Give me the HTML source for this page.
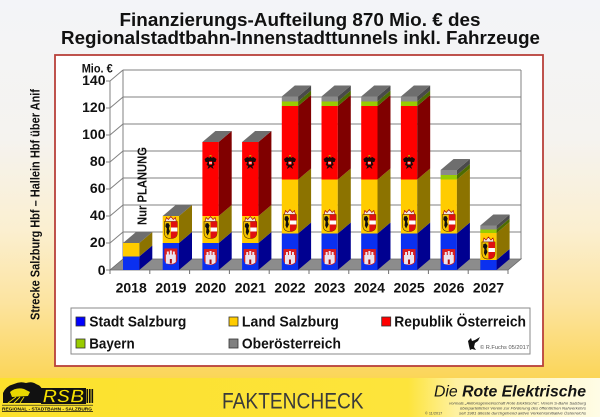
<!DOCTYPE html>
<html><head><meta charset="utf-8"><style>
html,body{margin:0;padding:0;width:600px;height:417px;overflow:hidden;background:#f4f5f8}
svg{display:block}
text{font-family:"Liberation Sans",Arial,sans-serif}
</style></head><body>
<svg width="600" height="417" viewBox="0 0 600 417" xmlns="http://www.w3.org/2000/svg">
<defs>
<linearGradient id="bg" x1="0" y1="0" x2="0" y2="1">
<stop offset="0" stop-color="#f3f4f8"/>
<stop offset="0.37" stop-color="#f5f3ef"/>
<stop offset="0.61" stop-color="#fbefd0"/>
<stop offset="0.8" stop-color="#fce4a0"/>
<stop offset="1" stop-color="#fbd558"/>
</linearGradient>
<linearGradient id="ft" x1="0" y1="0" x2="1" y2="0">
<stop offset="0" stop-color="#fce12c"/>
<stop offset="0.68" stop-color="#fde43c"/>
<stop offset="0.76" stop-color="#fef1a0"/>
<stop offset="1" stop-color="#fffce6"/>
</linearGradient>
<g id="city">
<path d="M0,0 H13 V10 Q13,16 6.5,16 Q0,16 0,10 Z" fill="#d81e1e"/>
<path d="M1.5,15 V6 H2.5 V3 H4.5 V6 H5.5 V2 H7.5 V6 H8.5 V3 H10.5 V6 H11.5 V13.5 Q9,15.5 6.5,15.5 Q4,15.5 1.5,15 Z" fill="#ece4ee"/>
<rect x="5.5" y="10.5" width="2" height="4.5" fill="#b01010"/>
</g>
<g id="land">
<path d="M1,5 L2,1 L4,3 L6.5,0 L9,3 L11,1 L12,5 Z" fill="#f0e8e0" stroke="#a00" stroke-width="0.6"/>
<path d="M0,5 H13 V16 Q13,22 6.5,22 Q0,22 0,16 Z" fill="#f5c400" stroke="#4a3000" stroke-width="0.6"/>
<path d="M6.5,5 H13 V16 Q13,22 6.5,22 Z" fill="#e01010"/>
<rect x="6.5" y="11" width="6.5" height="4" fill="#fff"/>
<path d="M1.5,7 L4,6.5 L5.5,9 L4.5,12 L5.5,15 L3.5,19 L2,16 L2.5,12 L1,10 Z" fill="#111"/>
</g>
<g id="eagle">
<path d="M6,1 L7,3 L9,2 L12,4 L11,7 L9,7 L10,10 L8,11 L9,14 L6,12 L3,14 L4,11 L2,10 L3,7 L1,7 L0,4 L3,2 L5,3 Z" fill="#1a0808"/>
<rect x="4.5" y="6" width="3" height="4" fill="#e00"/>
<rect x="4.5" y="7.3" width="3" height="1.3" fill="#fff"/>
<rect x="5" y="0" width="2" height="1.6" fill="#c9a000"/>
</g>
<g id="barA">
<rect x="0" y="233.5" width="16.3" height="36.5" fill="#0a30f0"/>
<polygon points="16.3,270 16.3,233.5 29.3,222.5 29.3,259" fill="#000090"/>
<rect x="0" y="179.5" width="16.3" height="54" fill="#ffcc00"/>
<polygon points="16.3,233.5 16.3,179.5 29.3,168.5 29.3,222.5" fill="#8c7300"/>
<rect x="0" y="106" width="16.3" height="73.5" fill="#ff0000"/>
<polygon points="16.3,179.5 16.3,106 29.3,95 29.3,168.5" fill="#800000"/>
<rect x="0" y="101.5" width="16.3" height="4.5" fill="#99cc00"/>
<polygon points="16.3,106 16.3,101.5 29.3,90.5 29.3,95" fill="#4d6b00"/>
<rect x="0" y="96.5" width="16.3" height="5" fill="#8a8a8a"/>
<polygon points="16.3,101.5 16.3,96.5 29.3,85.5 29.3,90.5" fill="#4a4a4a"/>
<polygon points="0,96.5 16.3,96.5 29.3,85.5 13,85.5" fill="#6e6e6e"/>
<use href="#city" x="1.65" y="249"/>
<use href="#land" x="1.65" y="209.5"/>
<use href="#eagle" x="2.15" y="155"/>
</g>
<g id="barB">
<rect x="0" y="243" width="16.3" height="27" fill="#0a30f0"/>
<polygon points="16.3,270 16.3,243 29.3,232 29.3,259" fill="#000090"/>
<rect x="0" y="216" width="16.3" height="27" fill="#ffcc00"/>
<polygon points="16.3,243 16.3,216 29.3,205 29.3,232" fill="#8c7300"/>
<rect x="0" y="142" width="16.3" height="74" fill="#ff0000"/>
<polygon points="16.3,216 16.3,142 29.3,131 29.3,205" fill="#800000"/>
<polygon points="0,142 16.3,142 29.3,131 13,131" fill="#6e6e6e"/>
<use href="#city" x="1.65" y="249"/>
<use href="#land" x="1.65" y="216.5"/>
<use href="#eagle" x="2.15" y="155"/>
</g>
</defs>

<!-- background -->
<rect x="0" y="0" width="600" height="378" fill="url(#bg)"/>
<rect x="0" y="378" width="600" height="39" fill="url(#ft)"/>

<!-- title -->
<text x="119.5" y="26" font-size="18.5" font-weight="bold" fill="#111" textLength="361" lengthAdjust="spacingAndGlyphs">Finanzierungs-Aufteilung 870 Mio. € des</text>
<text x="61" y="44" font-size="18.5" font-weight="bold" fill="#111" textLength="479" lengthAdjust="spacingAndGlyphs">Regionalstadtbahn-Innenstadttunnels inkl. Fahrzeuge</text>

<!-- left vertical text -->
<text transform="translate(39.5,320) rotate(-90)" x="0" y="0" font-size="12.5" font-weight="bold" fill="#111" textLength="231" lengthAdjust="spacingAndGlyphs">Strecke Salzburg Hbf – Hallein Hbf über Anif</text>

<!-- chart box -->
<rect x="55" y="55" width="488" height="311" fill="#fff" stroke="#b8403a" stroke-width="1.8"/>

<!-- back wall grid -->
<g stroke="#808080" stroke-width="1" fill="none">
<line x1="123" y1="70" x2="521" y2="70"/>
<line x1="123" y1="97" x2="521" y2="97"/>
<line x1="123" y1="124" x2="521" y2="124"/>
<line x1="123" y1="151" x2="521" y2="151"/>
<line x1="123" y1="178" x2="521" y2="178"/>
<line x1="123" y1="205" x2="521" y2="205"/>
<line x1="123" y1="232" x2="521" y2="232"/>
<line x1="123" y1="70" x2="123" y2="259"/>
<line x1="521" y1="70" x2="521" y2="259"/>
<line x1="110" y1="81" x2="123" y2="70"/>
<line x1="110" y1="108" x2="123" y2="97"/>
<line x1="110" y1="135" x2="123" y2="124"/>
<line x1="110" y1="162" x2="123" y2="151"/>
<line x1="110" y1="189" x2="123" y2="178"/>
<line x1="110" y1="216" x2="123" y2="205"/>
<line x1="110" y1="243" x2="123" y2="232"/>
<line x1="110" y1="81" x2="110" y2="270"/>
<line x1="106" y1="81" x2="110" y2="81"/>
<line x1="106" y1="108" x2="110" y2="108"/>
<line x1="106" y1="135" x2="110" y2="135"/>
<line x1="106" y1="162" x2="110" y2="162"/>
<line x1="106" y1="189" x2="110" y2="189"/>
<line x1="106" y1="216" x2="110" y2="216"/>
<line x1="106" y1="243" x2="110" y2="243"/>
<line x1="106" y1="270" x2="110" y2="270"/>
</g>
<!-- floor -->
<polygon points="110,270 508,270 521,259 123,259" fill="#8c8c8c" stroke="#6a6a6a" stroke-width="0.8"/>
<g stroke="#707070" stroke-width="1">
<line x1="110" y1="270" x2="110" y2="274"/>
<line x1="149.8" y1="270" x2="149.8" y2="274"/>
<line x1="189.6" y1="270" x2="189.6" y2="274"/>
<line x1="229.4" y1="270" x2="229.4" y2="274"/>
<line x1="269.2" y1="270" x2="269.2" y2="274"/>
<line x1="309" y1="270" x2="309" y2="274"/>
<line x1="348.8" y1="270" x2="348.8" y2="274"/>
<line x1="388.6" y1="270" x2="388.6" y2="274"/>
<line x1="428.4" y1="270" x2="428.4" y2="274"/>
<line x1="468.2" y1="270" x2="468.2" y2="274"/>
<line x1="508" y1="270" x2="508" y2="274"/>
</g>

<!-- bars -->
<!-- 2018 -->
<g transform="translate(123,0)">
<rect x="0" y="256.5" width="16.3" height="13.5" fill="#0a30f0"/>
<polygon points="16.3,270 16.3,256.5 29.3,245.5 29.3,259" fill="#000090"/>
<rect x="0" y="243" width="16.3" height="13.5" fill="#ffcc00"/>
<polygon points="16.3,256.5 16.3,243 29.3,232 29.3,245.5" fill="#8c7300"/>
<polygon points="0,243 16.3,243 29.3,232 13,232" fill="#6e6e6e"/>
</g>
<!-- 2019 -->
<g transform="translate(162.7,0)">
<rect x="0" y="243" width="16.3" height="27" fill="#0a30f0"/>
<polygon points="16.3,270 16.3,243 29.3,232 29.3,259" fill="#000090"/>
<rect x="0" y="216" width="16.3" height="27" fill="#ffcc00"/>
<polygon points="16.3,243 16.3,216 29.3,205 29.3,232" fill="#8c7300"/>
<polygon points="0,216 16.3,216 29.3,205 13,205" fill="#6e6e6e"/>
<use href="#city" x="1.65" y="248.5"/>
<use href="#land" x="1.65" y="216.5"/>
</g>
<use href="#barB" x="202.4" y="0"/>
<use href="#barB" x="242.1" y="0"/>
<use href="#barA" x="281.8" y="0"/>
<use href="#barA" x="321.5" y="0"/>
<use href="#barA" x="361.2" y="0"/>
<use href="#barA" x="400.9" y="0"/>
<!-- 2026 -->
<g transform="translate(440.6,0)">
<rect x="0" y="233.5" width="16.3" height="36.5" fill="#0a30f0"/>
<polygon points="16.3,270 16.3,233.5 29.3,222.5 29.3,259" fill="#000090"/>
<rect x="0" y="179.5" width="16.3" height="54" fill="#ffcc00"/>
<polygon points="16.3,233.5 16.3,179.5 29.3,168.5 29.3,222.5" fill="#8c7300"/>
<rect x="0" y="175" width="16.3" height="4.5" fill="#99cc00"/>
<polygon points="16.3,179.5 16.3,175 29.3,164 29.3,168.5" fill="#4d6b00"/>
<rect x="0" y="170" width="16.3" height="5" fill="#8a8a8a"/>
<polygon points="16.3,175 16.3,170 29.3,159 29.3,164" fill="#4a4a4a"/>
<polygon points="0,170 16.3,170 29.3,159 13,159" fill="#6e6e6e"/>
<use href="#city" x="1.65" y="249"/>
<use href="#land" x="1.65" y="209.5"/>
</g>
<!-- 2027 -->
<g transform="translate(480.3,0)">
<rect x="0" y="260" width="16.3" height="10" fill="#0a30f0"/>
<polygon points="16.3,270 16.3,260 29.3,249 29.3,259" fill="#000090"/>
<rect x="0" y="233" width="16.3" height="27" fill="#ffcc00"/>
<polygon points="16.3,260 16.3,233 29.3,222 29.3,249" fill="#8c7300"/>
<rect x="0" y="229.5" width="16.3" height="3.5" fill="#99cc00"/>
<polygon points="16.3,233 16.3,229.5 29.3,218.5 29.3,222" fill="#4d6b00"/>
<rect x="0" y="225.5" width="16.3" height="4" fill="#8a8a8a"/>
<polygon points="16.3,229.5 16.3,225.5 29.3,214.5 29.3,218.5" fill="#4a4a4a"/>
<polygon points="0,225.5 16.3,225.5 29.3,214.5 13,214.5" fill="#6e6e6e"/>
<use href="#land" x="1.65" y="237"/>
</g>

<!-- Nur PLANUNG -->
<text transform="translate(146.5,225) rotate(-90)" x="0" y="0" font-size="13" font-weight="bold" fill="#111" textLength="78" lengthAdjust="spacingAndGlyphs">Nur PLANUNG</text>

<!-- y labels -->
<g font-size="14" font-weight="bold" fill="#111" text-anchor="end">
<text x="105.5" y="85">140</text>
<text x="105.5" y="112">120</text>
<text x="105.5" y="139">100</text>
<text x="105.5" y="166">80</text>
<text x="105.5" y="193">60</text>
<text x="105.5" y="220">40</text>
<text x="105.5" y="247">20</text>
<text x="105.5" y="275">0</text>
</g>
<text x="81.7" y="72.5" font-size="12" font-weight="bold" fill="#111" textLength="31" lengthAdjust="spacingAndGlyphs">Mio. €</text>

<!-- x labels -->
<g font-size="14" font-weight="bold" fill="#111" text-anchor="middle">
<text x="131.2" y="292.7">2018</text>
<text x="170.9" y="292.7">2019</text>
<text x="210.6" y="292.7">2020</text>
<text x="250.3" y="292.7">2021</text>
<text x="290" y="292.7">2022</text>
<text x="329.7" y="292.7">2023</text>
<text x="369.4" y="292.7">2024</text>
<text x="409.1" y="292.7">2025</text>
<text x="448.8" y="292.7">2026</text>
<text x="488.5" y="292.7">2027</text>
</g>

<!-- legend -->
<rect x="71" y="308" width="459" height="46" fill="#fff" stroke="#8a8a8a" stroke-width="1"/>
<g stroke="#333" stroke-width="0.8">
<rect x="76" y="317" width="9" height="9" fill="#0000ff"/>
<rect x="229" y="317" width="9" height="9" fill="#ffcc00"/>
<rect x="381.7" y="317" width="9" height="9" fill="#ff0000"/>
<rect x="76" y="339" width="9" height="9" fill="#99cc00"/>
<rect x="229" y="339" width="9" height="9" fill="#808080"/>
</g>
<g font-size="15" font-weight="bold" fill="#111">
<text x="89.3" y="326.7" textLength="97" lengthAdjust="spacingAndGlyphs">Stadt Salzburg</text>
<text x="241.9" y="326.7" textLength="97" lengthAdjust="spacingAndGlyphs">Land Salzburg</text>
<text x="394.3" y="326.7" textLength="131.7" lengthAdjust="spacingAndGlyphs">Republik Österreich</text>
<text x="89.2" y="348.4" textLength="45.5" lengthAdjust="spacingAndGlyphs">Bayern</text>
<text x="241.9" y="348.4" textLength="99" lengthAdjust="spacingAndGlyphs">Oberösterreich</text>
</g>
<path d="M468,341 L471,338 L472,341 L475,340 L480,337 L478,341 L475,343 L474,347 L476,350 L472,349 L470,350 L469,346 Z" fill="#111"/>
<text x="480" y="349" font-size="5" fill="#555" textLength="49" lengthAdjust="spacingAndGlyphs">© R.Fuchs 05/2017</text>

<!-- footer: RSB logo -->
<path d="M3,403 L3,393 Q6,386 14,384 Q20,381 26,383 Q32,381 36,384 Q42,386 43,392 L43,403 Z" fill="#111"/>
<path d="M10,392 Q16,387 24,389 L30,392 L28,396 L12,397 Z" fill="#e8d800"/>
<path d="M8,403 L16,397 M14,403 L20,397 M20,403 L24,397" stroke="#e8d800" stroke-width="1"/>
<rect x="41" y="388" width="45" height="16" fill="#111"/>
<text x="42.5" y="402.5" font-size="18" font-weight="bold" font-style="italic" fill="#f5e000" stroke="#111" stroke-width="0.8" textLength="42" lengthAdjust="spacingAndGlyphs">RSB</text>
<rect x="86.5" y="389" width="1.6" height="14" fill="#111"/>
<rect x="89" y="389" width="1.6" height="14" fill="#111"/>
<rect x="91.5" y="389" width="1.6" height="14" fill="#111"/>
<line x1="2" y1="405.2" x2="93" y2="405.2" stroke="#111" stroke-width="0.7"/>
<line x1="2" y1="411.6" x2="93" y2="411.6" stroke="#111" stroke-width="0.7"/>
<text x="2" y="410.4" font-size="4.6" font-weight="bold" fill="#111" textLength="90" lengthAdjust="spacingAndGlyphs">REGIONAL - STADTBAHN - SALZBURG</text>

<!-- FAKTENCHECK -->
<text x="222" y="408.3" font-size="22" fill="#3a3a3a" textLength="141.6" lengthAdjust="spacingAndGlyphs">FAKTENCHECK</text>

<!-- Die Rote Elektrische -->
<text x="434" y="396.3" font-size="15.5" font-style="italic" fill="#141414" textLength="152" lengthAdjust="spacingAndGlyphs">Die <tspan font-weight="bold">Rote Elektrische</tspan></text>
<g font-size="4" font-style="italic" fill="#444" text-anchor="end">
<text x="586" y="404.5" textLength="137" lengthAdjust="spacingAndGlyphs">vormals „Aktionsgemeinschaft Rote Elektrische“, Verein S-Bahn Salzburg</text>
<text x="586" y="409.5" textLength="126" lengthAdjust="spacingAndGlyphs">überparteilicher Verein zur Förderung des öffentlichen Nahverkehrs</text>
<text x="586" y="414.5" textLength="127" lengthAdjust="spacingAndGlyphs">seit 1981 älteste durchgehend aktive Verkehrsinitiative Österreichs</text>
</g>
<text x="425" y="414.5" font-size="3.8" fill="#444">© 11/2017</text>
</svg>
</body></html>
